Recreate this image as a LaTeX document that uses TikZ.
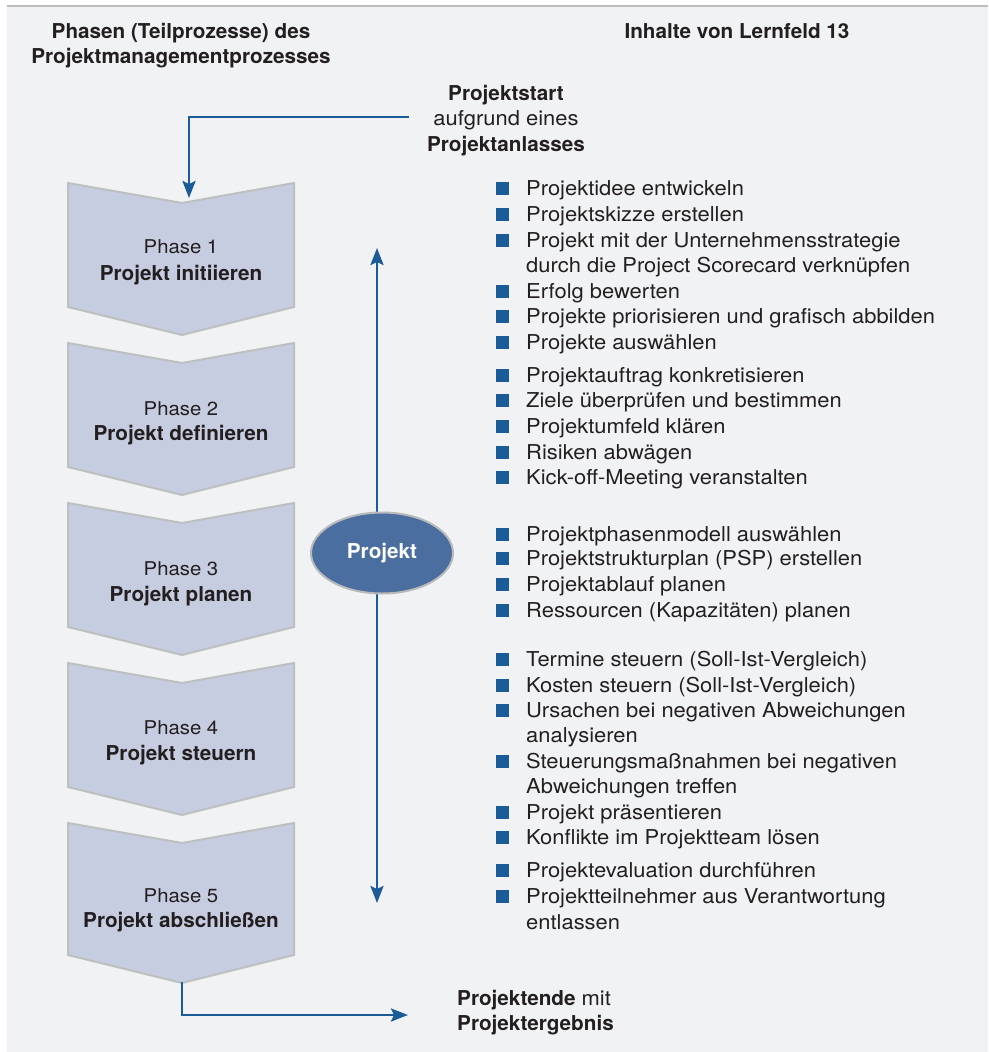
\documentclass[tikz,border=0pt]{standalone}
\usepackage{fontspec}
\setmainfont{TeX Gyre Heros}
\newfontfamily\regf[FakeStretch=1.07]{TeX Gyre Heros}
\newfontfamily\bldf[FakeStretch=1.01]{TeX Gyre Heros}
\usetikzlibrary{arrows.meta,shapes.geometric}
\definecolor{bg}{HTML}{F1F2F4}
\definecolor{topline}{HTML}{BDBEC0}
\definecolor{chev}{HTML}{C7CDE0}
\definecolor{chevb}{HTML}{BEBFC1}
\definecolor{arr}{HTML}{1B5B97}
\definecolor{ell}{HTML}{4A6E9F}
\definecolor{ellb}{HTML}{B8B9BB}
\definecolor{txt}{HTML}{231F20}
\begin{document}
\begin{tikzpicture}[x=1pt,y=-1pt,
  reg/.style={text=txt,inner sep=0pt,font=\regf\fontsize{20.5}{24}\selectfont},
  bld/.style={text=txt,inner sep=0pt,font=\bldf\bfseries\fontsize{20.5}{24}\selectfont},
  phreg/.style={text=txt,inner sep=0pt,anchor=base,font=\regf\fontsize{19}{23}\selectfont},
  phbld/.style={bld,anchor=base},
  chevron/.style={fill=chev,draw=chevb,line width=2pt,line join=miter},
  arrowline/.style={draw=arr,line width=2.6pt},
  tip/.style={-{Stealth[length=17pt,width=13pt,inset=3pt]}},
  bulletsq/.style={fill=arr,inner sep=0pt,minimum size=12.5pt},
  item/.style={reg,anchor=base west}]
\useasboundingbox (0,0) rectangle (988,1052);
\fill[white] (0,0) rectangle (988,1052);
\fill[bg] (7,7) rectangle (988,1052);
\draw[topline,line width=2.5pt] (7,6) -- (988,6);

% chevrons
\foreach \t/\b in {183/307,343/467,503/627,663/787,823/955}{
  \path[chevron] (68,\t) -- (182,\t+20) -- (294,\t) -- (294,\b) -- (182,\b+28) -- (68,\b) -- cycle;
}

% headers
\node[bld,anchor=base] (h1) at (181,38) {Phasen (Teilprozesse) des};
\node[bld,anchor=base] (h2) at (181,63) {Projektmanagementprozesses};
\node[bld,anchor=base] (h3) at (737,38) {Inhalte von Lernfeld 13};

% phase labels
\foreach \n/\ya/\yb/\lab in {1/253/280/Projekt initiieren,2/415/440/Projekt definieren,3/575/601/Projekt planen,4/734/760/Projekt steuern,5/902/927/Projekt abschließen}{
  \node[phreg] (p\n) at (181,\ya) {Phase \n};
  \node[phbld] (q\n) at (181,\yb) {\lab};
}

% start / end texts
\node[bld,anchor=base] (st1) at (506,100) {Projektstart};
\node[reg,anchor=base] (st2) at (506,125) {aufgrund eines};
\node[bld,anchor=base] (st3) at (506,151) {Projektanlasses};
\node[reg,anchor=base west] (en1) at (457,1005) {{\bldf\bfseries Projektende} mit};
\node[bld,anchor=base west] (en2) at (457,1030) {Projektergebnis};

% start / end arrows
\coordinate (s0) at (409,117);
\coordinate (s1) at (189,198);
\draw[arrowline,tip] (s0) -| (s1);
\coordinate (e0) at (182,982);
\coordinate (e1) at (408,1015);
\draw[arrowline,tip] (e0) |- (e1);

% vertical double arrow and ellipse
\coordinate (vt) at (377,248);
\coordinate (vb) at (377,903);
\draw[arrowline,{Stealth[length=17pt,width=13pt,inset=3pt]}-{Stealth[length=17pt,width=13pt,inset=3pt]}] (vt) -- (vb);
\node[ellipse,fill=ell,draw=ellb,line width=2pt,minimum width=142pt,minimum height=81pt,inner sep=0pt,
  text=white,font=\bldf\bfseries\fontsize{20.5}{24}\selectfont] (proj) at (382,553) {Projekt};

% bullet items
\foreach \yy/\itemtext [count=\i] in {195/Projektidee entwickeln,221/Projektskizze erstellen,247/Projekt mit der Unternehmensstrategie,298/Erfolg bewerten,323/Projekte priorisieren und grafisch abbilden,349/Projekte auswählen,382/Projektauftrag konkretisieren,407/Ziele überprüfen und bestimmen,433/Projektumfeld klären,459/Risiken abwägen,484/Kick-off-Meeting veranstalten,541/Projektphasenmodell auswählen,565/Projektstrukturplan (PSP) erstellen,591/Projektablauf planen,617/Ressourcen (Kapazitäten) planen,666/Termine steuern (Soll-Ist-Vergleich),692/Kosten steuern (Soll-Ist-Vergleich),717/Ursachen bei negativen Abweichungen,768/Steuerungsmaßnahmen bei negativen,819/Projekt präsentieren,844/Konflikte im Projektteam lösen,877/Projektevaluation durchführen,903/Projektteilnehmer aus Verantwortung}{
  \node[bulletsq] (b\i) at (502.5,\yy-6.5) {};
  \node[item] (t\i) at (526,\yy) {\itemtext};
}
\foreach \yy/\itemtext [count=\i] in {272/durch die Project Scorecard verknüpfen,742/analysieren,793/Abweichungen treffen,929/entlassen}{
  \node[item] (c\i) at (526,\yy) {\itemtext};
}
\end{tikzpicture}
\end{document}
